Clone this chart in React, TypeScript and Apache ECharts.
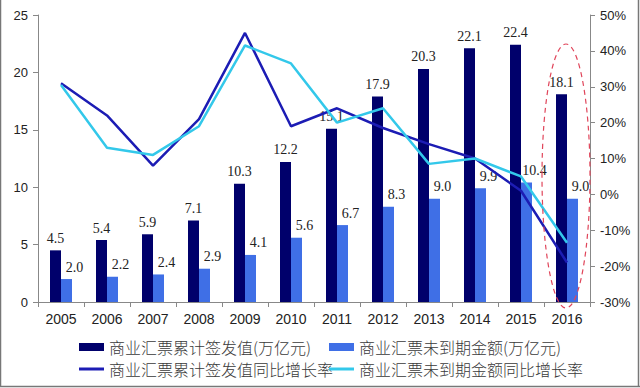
import React, { useEffect, useRef } from "react";
import * as echarts from "echarts";

const years = ["2005", "2006", "2007", "2008", "2009", "2010", "2011", "2012", "2013", "2014", "2015", "2016"];
const issued = [4.5, 5.4, 5.9, 7.1, 10.3, 12.2, 15.1, 17.9, 20.3, 22.1, 22.4, 18.1];
const outstanding = [2.0, 2.2, 2.4, 2.9, 4.1, 5.6, 6.7, 8.3, 9.0, 9.9, 10.4, 9.0];
const issuedYoY = [31, 22, 8, 21, 45, 19, 24, 18.5, 14, 10, 1, -19];
const outstandingYoY = [30.5, 13, 11, 19, 41.5, 36.5, 20, 24, 8.5, 10, 5, -13.5];

const names = [
  "商业汇票累计签发值(万亿元)",
  "商业汇票未到期金额(万亿元)",
  "商业汇票累计签发值同比增长率",
  "商业汇票未到期金额同比增长率",
];

const C_DARK = "#00006B";
const C_LIGHT = "#3F6FE6";
const C_LINE1 = "#1C1CB4";
const C_LINE2 = "#33C8EA";

export default function App() {
  const ref = useRef<HTMLDivElement>(null);
  useEffect(() => {
    const chart = echarts.init(ref.current!, null, { renderer: "svg" });
    const sans = "'Liberation Sans', Arial, sans-serif";
    const serif = "'Liberation Serif', 'Times New Roman', serif";
    const cjk = "'Noto Sans CJK SC', sans-serif";
    const legendBase = {
      itemWidth: 25,
      textStyle: { fontFamily: cjk, fontSize: 16, color: "#3a3a3a", fontWeight: 300 },
      itemGap: 5,
    };
    chart.setOption({
      animation: false,
      backgroundColor: "#fff",
      grid: { left: 38, right: 50, top: 15, bottom: 86 },
      legend: [
        { ...legendBase, data: [{ name: names[0], icon: "rect" }], left: 74, top: 334, itemHeight: 8 },
        { ...legendBase, data: [{ name: names[1], icon: "rect" }], left: 324, top: 334, itemHeight: 8 },
        { ...legendBase, data: [{ name: names[2], icon: "rect" }], left: 74, top: 356, itemHeight: 3 },
        { ...legendBase, data: [{ name: names[3], icon: "rect" }], left: 324, top: 356, itemHeight: 3 },
      ],
      xAxis: {
        type: "category",
        data: years,
        axisLine: { lineStyle: { color: "#888" } },
        axisTick: { show: true, inside: false, length: 5, lineStyle: { color: "#888" } },
        axisLabel: { fontFamily: sans, fontSize: 14, color: "#222", margin: 10 },
      },
      yAxis: [
        {
          type: "value",
          min: 0,
          max: 25,
          interval: 5,
          splitLine: { show: false },
          axisLine: { show: true, lineStyle: { color: "#888" } },
          axisTick: { show: true, length: 5, lineStyle: { color: "#888" } },
          axisLabel: { fontFamily: sans, fontSize: 13, color: "#222", margin: 10 },
        },
        {
          type: "value",
          min: -30,
          max: 50,
          interval: 10,
          splitLine: { show: false },
          axisLine: { show: true, lineStyle: { color: "#888" } },
          axisTick: { show: true, length: 5, lineStyle: { color: "#888" } },
          axisLabel: { fontFamily: sans, fontSize: 13, color: "#222", margin: 10, formatter: "{value}%" },
        },
      ],
      series: [
        {
          name: names[0],
          type: "bar",
          data: issued,
          barWidth: 11,
          barGap: "0%",
          itemStyle: { color: C_DARK },
          label: {
            show: true,
            position: "top",
            distance: 5,
            fontFamily: serif,
            fontSize: 14,
            color: "#222",
            formatter: (p: any) => p.value.toFixed(1),
          },
        },
        {
          name: names[1],
          type: "bar",
          data: outstanding,
          barWidth: 11,
          barGap: "0%",
          itemStyle: { color: C_LIGHT },
          label: {
            show: true,
            position: "top",
            distance: 5,
            offset: [8, 0],
            fontFamily: serif,
            fontSize: 14,
            color: "#222",
            formatter: (p: any) => p.value.toFixed(1),
          },
        },
        {
          name: names[2],
          type: "line",
          yAxisIndex: 1,
          data: issuedYoY,
          symbol: "none",
          lineStyle: { color: C_LINE1, width: 2.5 },
          itemStyle: { color: C_LINE1 },
          z: 3,
        },
        {
          name: names[3],
          type: "line",
          yAxisIndex: 1,
          data: outstandingYoY,
          symbol: "none",
          lineStyle: { color: C_LINE2, width: 2.5 },
          itemStyle: { color: C_LINE2 },
          z: 4,
        },
      ],
      graphic: [
        {
          type: "ellipse",
          shape: { cx: 566, cy: 176, rx: 24, ry: 132 },
          style: { fill: "none", stroke: "#E0455A", lineWidth: 1.2, lineDash: [5, 4] },
          z: 10,
        },
        {
          type: "line",
          shape: { x1: 0.5, y1: 0, x2: 0.5, y2: 387 },
          style: { stroke: "#777", lineWidth: 1.5 },
        },
        {
          type: "line",
          shape: { x1: 638.5, y1: 0, x2: 638.5, y2: 387 },
          style: { stroke: "#777", lineWidth: 1.5 },
        },
        {
          type: "line",
          shape: { x1: 0, y1: 386.5, x2: 640, y2: 386.5 },
          style: { stroke: "#777", lineWidth: 1.5 },
        },
      ],
    });
    return () => chart.dispose();
  }, []);
  return (
    <div style={{ position: "fixed", left: 0, top: 0, width: 640, height: 388 }}>
      <div ref={ref} style={{ width: 640, height: 388 }} />
    </div>
  );
}
